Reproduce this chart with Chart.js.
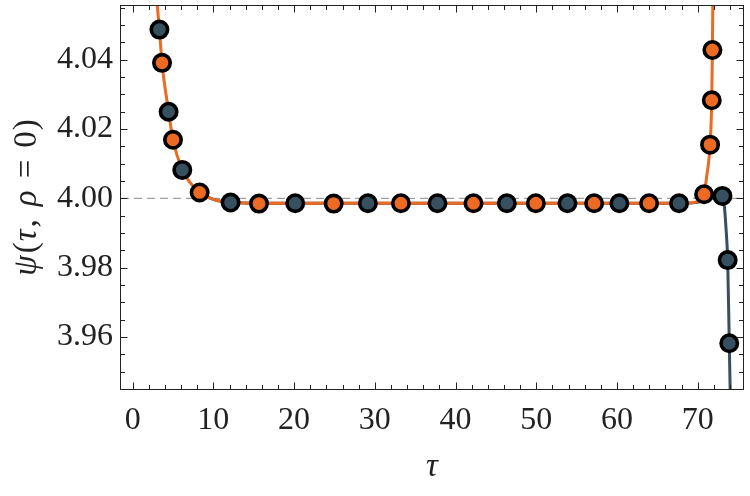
<!DOCTYPE html>
<html>
<head>
<meta charset="utf-8">
<script src="https://cdn.jsdelivr.net/npm/chart.js@4.4.0/dist/chart.umd.min.js"></script>
<style>
    html, body { margin: 0; padding: 0; background: #fff; }
    #wrap { width: 750px; height: 496px; }
</style>
</head>
<body>
<div id="wrap"><canvas id="grafico-psi"></canvas></div>
<script>
const ORANGE = '#EC6A22'
const SLATE = '#37505F'
const SERIF = '"Liberation Serif", "DejaVu Serif", serif'

// curves (tau, psi)
const orangeCurveTau = [2.8, 3.32, 3.64, 4.46, 5.0, 6.15, 7.2, 8.3, 10.0, 12.13, 16.0, 30.0, 50.0, 67.68, 69.5, 70.3, 70.78, 71.1, 71.52, 71.73, 71.81, 71.88]
const orangeCurvePsi = [4.062, 4.0487, 4.0391, 4.0250, 4.0169, 4.0082, 4.0043, 4.0017, 3.9997, 3.9988, 3.9986, 3.9986, 3.9986, 3.9986, 3.9988, 3.9996, 4.0012, 4.0063, 4.0155, 4.0283, 4.0428, 4.062]
const slateCurveTau = [8.3, 10.0, 12.13, 16.0, 40.0, 67.68, 69.5, 71.0, 72.3, 73.05, 73.3, 73.5, 73.7, 73.9, 74.05]
const slateCurvePsi = [4.0017, 3.9997, 3.9988, 3.9986, 3.9986, 3.9986, 3.9987, 3.9995, 4.0004, 4.0007, 3.9975, 3.9912, 3.9822, 3.9582, 3.940]

// marked points
const orangeMarkTau = [3.64, 5.0, 8.3, 15.65, 24.9, 33.23, 42.22, 49.94, 57.16, 63.97, 70.78, 71.52, 71.73, 71.81]
const orangeMarkPsi = [4.0391, 4.0169, 4.0017, 3.9985, 3.9985, 3.9986, 3.9986, 3.9986, 3.9986, 3.9986, 4.0012, 4.0155, 4.0283, 4.0428]
const slateMarkTau = [3.32, 4.46, 6.15, 12.13, 20.14, 29.14, 37.76, 46.35, 53.86, 60.29, 67.68, 73.05, 73.7, 73.9]
const slateMarkPsi = [4.0487, 4.0250, 4.0082, 3.9988, 3.9986, 3.9986, 3.9986, 3.9986, 3.9986, 3.9986, 3.9986, 4.0007, 3.9822, 3.9582]

const referencePsi = 4.0
const tauRange = [-1.44, 75.6]
const psiRange = [3.945, 4.0555]
const tauTicks = [0, 10, 20, 30, 40, 50, 60, 70]
const psiTicks = [3.96, 3.98, 4.00, 4.02, 4.04]

const _pts = (xs, ys) => xs.map((x, i) => ({ x, y: ys[i] }))

const frameTicks = {
    id: 'frameTicks',
    afterDraw(chart) {
        const { ctx, chartArea: a, scales: { x, y } } = chart
        ctx.save()
        ctx.strokeStyle = '#222'
        ctx.lineWidth = 1
        ctx.beginPath()
        for (let v = 0; v <= 74; v += 2) {
            const px = Math.round(x.getPixelForValue(v)) + 0.5
            const len = v % 10 === 0 ? 6.5 : 4
            ctx.moveTo(px, a.bottom); ctx.lineTo(px, a.bottom - len)
            ctx.moveTo(px, a.top); ctx.lineTo(px, a.top + len)
        }
        for (let k = 0; k <= 22; k++) {
            const v = 3.945 + k * 0.005
            const py = Math.round(y.getPixelForValue(v)) + 0.5
            const major = Math.abs(((v - 3.96) / 0.02) - Math.round((v - 3.96) / 0.02)) < 1e-6
            const len = major ? 6.5 : 4
            ctx.moveTo(a.left, py); ctx.lineTo(a.left + len, py)
            ctx.moveTo(a.right, py); ctx.lineTo(a.right - len, py)
        }
        ctx.stroke()
        ctx.strokeRect(Math.round(a.left) - 0.5, Math.round(a.top) - 0.5, Math.round(a.right - a.left) + 1, Math.round(a.bottom - a.top) + 1)

        // axis titles
        ctx.fillStyle = '#222'
        ctx.textBaseline = 'alphabetic'
        ctx.textAlign = 'center'
        ctx.font = `italic 33px ${SERIF}`
        ctx.fillText('τ', (a.left + a.right) / 2, 476)

        // [text, style, gap after]
        const parts = [['ψ', 'italic', 2], ['(', 'normal', 1], ['τ', 'italic', 2], [',', 'normal', 13], ['ρ', 'italic', 12], ['=', 'normal', 12], ['0', 'normal', 1], [')', 'normal', 0]]
        ctx.translate(36, (a.top + a.bottom) / 2)
        ctx.rotate(-Math.PI / 2)
        ctx.textAlign = 'left'
        const widths = parts.map(([t, s, g]) => { ctx.font = `${s} 33px ${SERIF}`; return ctx.measureText(t).width + g })
        let cx = -widths.reduce((s, w) => s + w, 0) / 2
        parts.forEach(([t, s], i) => {
            ctx.font = `${s} 33px ${SERIF}`
            ctx.fillText(t, cx, 0)
            cx += widths[i]
        })
        ctx.restore()
    }
}

const ctx = document.getElementById('grafico-psi')
new Chart(ctx, {
    type: 'scatter',
    data: {
        datasets: [
            {
                data: _pts(slateMarkTau, slateMarkPsi),
                backgroundColor: SLATE, borderColor: '#000',
                pointRadius: 8.2, borderWidth: 3.6, showLine: false, order: 0,
            },
            {
                data: _pts(orangeMarkTau, orangeMarkPsi),
                backgroundColor: ORANGE, borderColor: '#000',
                pointRadius: 8.2, borderWidth: 3.6, showLine: false, order: 1,
            },
            {
                data: _pts(orangeCurveTau, orangeCurvePsi),
                borderColor: ORANGE, borderWidth: 3, pointRadius: 0,
                showLine: true, cubicInterpolationMode: 'monotone', order: 2,
            },
            {
                data: _pts(slateCurveTau, slateCurvePsi),
                borderColor: SLATE, borderWidth: 3, pointRadius: 0,
                showLine: true, cubicInterpolationMode: 'monotone', order: 3,
            },
            {
                data: _pts(tauRange, [referencePsi, referencePsi]),
                borderColor: '#a0a0a0', borderWidth: 1.2, borderDash: [8, 5], pointRadius: 0,
                showLine: true, order: 4,
            },
        ]
    },
    options: {
        responsive: true,
        maintainAspectRatio: false,
        animation: false,
        layout: { autoPadding: false, padding: { left: 0, right: 7, top: 6, bottom: 0 } },
        plugins: { legend: { display: false }, tooltip: { enabled: false } },
        scales: {
            x: {
                type: 'linear', min: tauRange[0], max: tauRange[1],
                grid: { display: false, drawTicks: false }, border: { display: false },
                afterBuildTicks: s => { s.ticks = tauTicks.map(value => ({ value })) },
                afterFit: s => { s.height = 107; s.paddingLeft = 0; s.paddingRight = 0 },
                ticks: { padding: 12, maxRotation: 0, color: '#222', font: { family: SERIF, size: 32 } },
            },
            y: {
                type: 'linear', min: psiRange[0], max: psiRange[1],
                grid: { display: false, drawTicks: false }, border: { display: false },
                afterBuildTicks: s => { s.ticks = psiTicks.map(value => ({ value })) },
                afterFit: s => { s.width = 121; s.paddingTop = 0; s.paddingBottom = 0 },
                ticks: { padding: 8, color: '#222', font: { family: SERIF, size: 32 }, callback: v => v.toFixed(2) },
            }
        }
    },
    plugins: [frameTicks]
})
</script>
</body>
</html>
